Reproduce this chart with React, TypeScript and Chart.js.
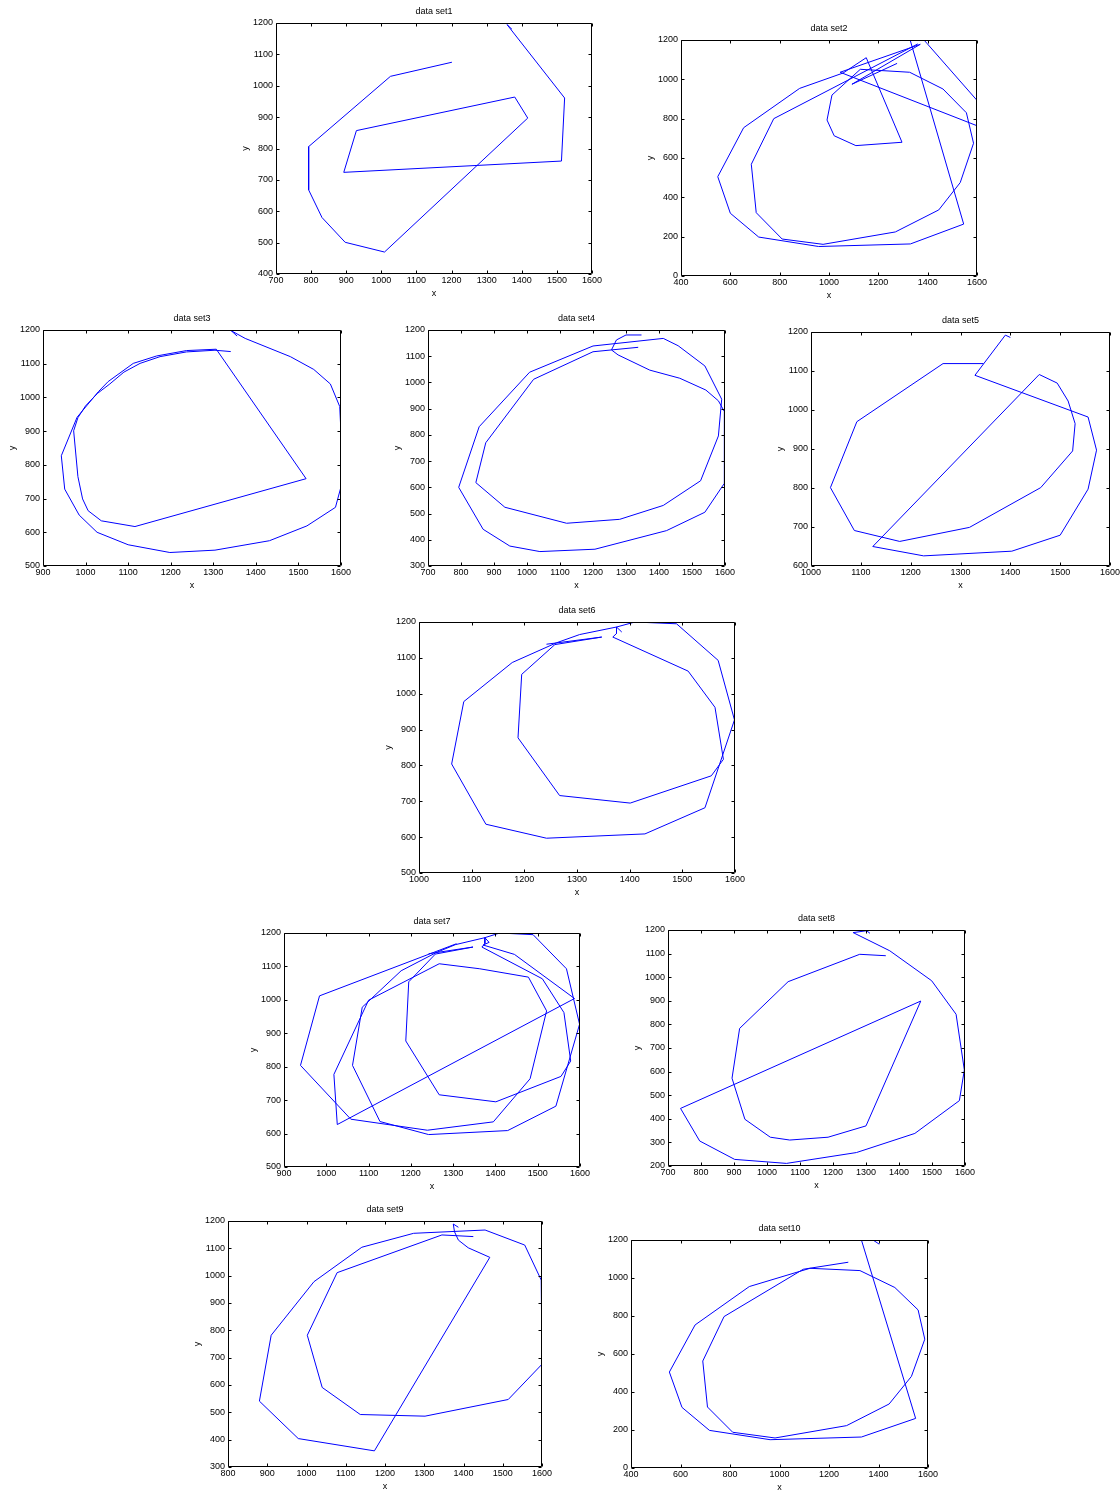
import React, { useEffect, useRef } from 'react';
import { Chart, registerables } from 'chart.js';

Chart.register(...registerables);

// ---------- data ----------
const set1X = [1201, 1026, 793, 793, 831, 897, 1009, 1417, 1380, 929, 893, 1513, 1522, 1358, 1372];
const set1Y = [1075, 1030, 806, 668, 580, 501, 470, 897, 964, 857, 724, 760, 961, 1195, 1180];

const set2X = [1276, 1093, 1370, 1045, 1600, 1600, 1397, 1385, 1329, 1546, 1330, 958, 715, 600, 549, 654, 881, 1057, 1151, 1296, 1109, 1021, 992, 1012, 1127, 1327, 1462, 1557, 1586, 1532, 1445, 1269, 976, 810, 705, 685, 776, 1360];
const set2Y = [1081, 975, 1178, 1036, 764, 893, 1183, 1200, 1200, 264, 163, 150, 198, 319, 505, 754, 954, 1032, 1110, 680, 663, 713, 793, 920, 1051, 1036, 951, 830, 675, 475, 336, 224, 161, 188, 322, 568, 800, 1180];

const set3X = [1341, 1304, 1237, 1175, 1128, 1090, 1057, 1028, 1000, 982, 972, 982, 993, 1006, 1037, 1116, 1518, 1307, 1237, 1167, 1112, 1053, 1030, 980, 943, 951, 985, 1027, 1100, 1198, 1304, 1432, 1520, 1587, 1600, 1600, 1597, 1575, 1536, 1481, 1375, 1342, 1356];
const set3Y = [1136, 1140, 1135, 1121, 1101, 1075, 1040, 1012, 975, 940, 901, 765, 699, 664, 634, 617, 759, 1143, 1139, 1123, 1101, 1047, 1017, 941, 827, 728, 651, 600, 563, 540, 547, 575, 619, 674, 735, 893, 973, 1040, 1083, 1121, 1175, 1198, 1182];

const set4X = [1337, 1256, 1200, 1020, 875, 845, 933, 1120, 1281, 1413, 1526, 1580, 1590, 1539, 1458, 1413, 1200, 1008, 855, 793, 867, 948, 1039, 1206, 1423, 1539, 1598, 1598, 1580, 1542, 1463, 1372, 1276, 1256, 1271, 1300, 1347];
const set4Y = [1134, 1124, 1117, 1012, 770, 618, 524, 463, 478, 531, 625, 796, 936, 1063, 1140, 1168, 1139, 1039, 831, 600, 440, 376, 355, 364, 435, 505, 615, 889, 930, 971, 1016, 1047, 1105, 1124, 1162, 1181, 1181];

const set5X = [1400, 1390, 1329, 1556, 1573, 1556, 1500, 1403, 1226, 1124, 1458, 1494, 1516, 1530, 1525, 1461, 1318, 1178, 1087, 1039, 1092, 1265, 1346];
const set5Y = [1186, 1192, 1089, 982, 897, 797, 679, 638, 626, 650, 1091, 1069, 1023, 965, 895, 801, 699, 663, 691, 801, 970, 1119, 1119];

const set6X = [1385, 1375, 1410, 1489, 1568, 1599, 1543, 1429, 1242, 1127, 1062, 1085, 1177, 1261, 1305, 1375, 1375, 1368, 1511, 1562, 1578, 1555, 1401, 1267, 1188, 1195, 1258, 1347, 1242];
const set6Y = [1172, 1186, 1200, 1195, 1093, 927, 682, 609, 597, 636, 804, 978, 1087, 1142, 1165, 1186, 1168, 1158, 1063, 962, 817, 771, 695, 716, 877, 1054, 1137, 1158, 1138];

const set7X = [1308, 984, 939, 1058, 1239, 1395, 1482, 1521, 1478, 1363, 1267, 1100, 1018, 1026, 1587, 1445, 1371, 1385, 1375, 1410, 1489, 1568, 1599, 1543, 1429, 1242, 1127, 1062, 1085, 1177, 1261, 1305, 1375, 1375, 1368, 1511, 1562, 1578, 1555, 1401, 1267, 1188, 1195, 1258, 1347, 1242];
const set7Y = [1168, 1012, 804, 643, 610, 635, 764, 967, 1068, 1093, 1108, 999, 777, 627, 1004, 1136, 1164, 1172, 1186, 1200, 1195, 1093, 927, 682, 609, 597, 636, 804, 978, 1087, 1142, 1165, 1186, 1168, 1158, 1063, 962, 817, 771, 695, 716, 877, 1054, 1137, 1158, 1138];

const set8X = [1360, 1281, 1064, 917, 894, 933, 1010, 1069, 1185, 1300, 1466, 738, 796, 902, 1059, 1271, 1448, 1583, 1598, 1573, 1499, 1372, 1261, 1302, 1312];
const set8Y = [1091, 1097, 981, 783, 572, 398, 322, 310, 322, 370, 899, 444, 306, 228, 211, 257, 338, 477, 607, 843, 985, 1112, 1189, 1197, 1186];

const set9X = [1425, 1345, 1078, 1002, 1040, 1137, 1302, 1514, 1600, 1598, 1556, 1455, 1273, 1141, 1019, 910, 880, 979, 1173, 1467, 1412, 1387, 1377, 1374, 1387];
const set9Y = [1143, 1149, 1011, 782, 591, 492, 486, 547, 676, 984, 1112, 1167, 1155, 1104, 978, 782, 541, 404, 359, 1067, 1102, 1130, 1161, 1189, 1177];

const set10X = [1403, 1380, 1331, 1550, 1331, 962, 717, 606, 555, 659, 878, 1123, 1325, 1466, 1560, 1587, 1533, 1443, 1271, 982, 811, 709, 690, 776, 1096, 1278];
const set10Y = [1178, 1198, 1200, 261, 163, 149, 198, 319, 505, 753, 955, 1051, 1039, 950, 832, 678, 482, 337, 223, 158, 188, 321, 563, 797, 1046, 1083];

// ---------- tick labels ----------
const xTicks700 = [700, 800, 900, 1000, 1100, 1200, 1300, 1400, 1500, 1600];
const xTicks400 = [400, 600, 800, 1000, 1200, 1400, 1600];
const xTicks900 = [900, 1000, 1100, 1200, 1300, 1400, 1500, 1600];
const xTicks1000 = [1000, 1100, 1200, 1300, 1400, 1500, 1600];
const xTicks800 = [800, 900, 1000, 1100, 1200, 1300, 1400, 1500, 1600];
const yTicks400 = [400, 500, 600, 700, 800, 900, 1000, 1100, 1200];
const yTicks0 = [0, 200, 400, 600, 800, 1000, 1200];
const yTicks500 = [500, 600, 700, 800, 900, 1000, 1100, 1200];
const yTicks300 = [300, 400, 500, 600, 700, 800, 900, 1000, 1100, 1200];
const yTicks600 = [600, 700, 800, 900, 1000, 1100, 1200];
const yTicks200 = [200, 300, 400, 500, 600, 700, 800, 900, 1000, 1100, 1200];

const titles = ['data set1', 'data set2', 'data set3', 'data set4', 'data set5', 'data set6', 'data set7', 'data set8', 'data set9', 'data set10'];

// ---------- layout (page pixel positions of each plot frame) ----------
const YW = 40; // y-axis box width
const XH = 28; // x-axis box height
const TH = 17; // title box height
const PR = 15; // right padding

const panels = [
  { title: titles[0], xs: set1X, ys: set1Y, xt: xTicks700, yt: yTicks400, left: 276, top: 23, w: 316, h: 251 },
  { title: titles[1], xs: set2X, ys: set2Y, xt: xTicks400, yt: yTicks0, left: 681, top: 40, w: 296, h: 236 },
  { title: titles[2], xs: set3X, ys: set3Y, xt: xTicks900, yt: yTicks500, left: 43, top: 330, w: 298, h: 236 },
  { title: titles[3], xs: set4X, ys: set4Y, xt: xTicks700, yt: yTicks300, left: 428, top: 330, w: 297, h: 236 },
  { title: titles[4], xs: set5X, ys: set5Y, xt: xTicks1000, yt: yTicks600, left: 811, top: 332, w: 299, h: 234 },
  { title: titles[5], xs: set6X, ys: set6Y, xt: xTicks1000, yt: yTicks500, left: 419, top: 622, w: 316, h: 251 },
  { title: titles[6], xs: set7X, ys: set7Y, xt: xTicks900, yt: yTicks500, left: 284, top: 933, w: 296, h: 234 },
  { title: titles[7], xs: set8X, ys: set8Y, xt: xTicks700, yt: yTicks200, left: 668, top: 930, w: 297, h: 236 },
  { title: titles[8], xs: set9X, ys: set9Y, xt: xTicks800, yt: yTicks300, left: 228, top: 1221, w: 314, h: 246 },
  { title: titles[9], xs: set10X, ys: set10Y, xt: xTicks400, yt: yTicks0, left: 631, top: 1240, w: 297, h: 228 },
];

const FONT = "'Liberation Sans', Arial, Helvetica, sans-serif";

const matlabBox = {
  id: 'matlabBox',
  afterDraw(chart: any) {
    const { ctx, chartArea: a } = chart;
    const sx = chart.scales.x;
    const sy = chart.scales.y;
    const L = Math.round(a.left) + 0.5;
    const R = Math.round(a.right) - 0.5;
    const T = Math.round(a.top) + 0.5;
    const B = Math.round(a.bottom) - 0.5;
    const tl = 3;
    ctx.save();
    ctx.strokeStyle = '#000';
    ctx.lineWidth = 1;
    ctx.beginPath();
    ctx.rect(L, T, R - L, B - T);
    sx.ticks.forEach((t: any) => {
      const p = Math.round(sx.getPixelForValue(t.value)) + 0.5;
      ctx.moveTo(p, B); ctx.lineTo(p, B - tl);
      ctx.moveTo(p, T); ctx.lineTo(p, T + tl);
    });
    sy.ticks.forEach((t: any) => {
      const p = Math.round(sy.getPixelForValue(t.value)) + 0.5;
      ctx.moveTo(L, p); ctx.lineTo(L + tl, p);
      ctx.moveTo(R, p); ctx.lineTo(R - tl, p);
    });
    ctx.stroke();
    ctx.restore();
  },
};

type PanelCfg = typeof panels[number];

function Panel({ cfg }: { cfg: PanelCfg }) {
  const ref = useRef<HTMLCanvasElement>(null);
  useEffect(() => {
    const tickFont = { family: FONT, size: 9 };
    const chart = new Chart(ref.current as HTMLCanvasElement, {
      type: 'scatter',
      data: {
        datasets: [
          {
            data: cfg.xs.map((x, i) => ({ x, y: cfg.ys[i] })),
            showLine: true,
            borderColor: 'rgb(0,0,255)',
            backgroundColor: 'rgb(0,0,255)',
            borderWidth: 1,
            pointRadius: 0,
            pointHoverRadius: 0,
            tension: 0,
            fill: false,
          } as any,
        ],
      },
      options: {
        responsive: false,
        animation: false,
        events: [],
        layout: { padding: { left: 0, top: 0, right: PR, bottom: 0 } },
        plugins: {
          legend: { display: false },
          tooltip: { enabled: false },
          title: {
            display: true,
            text: cfg.title,
            color: '#000',
            fullSize: false,
            font: { family: FONT, size: 9, weight: 'normal', lineHeight: '12px' } as any,
            padding: { top: 0, bottom: 5 },
          },
        },
        scales: {
          x: {
            type: 'linear',
            min: cfg.xt[0],
            max: cfg.xt[cfg.xt.length - 1],
            grid: { display: false, drawTicks: false },
            border: { display: false },
            afterBuildTicks: (s: any) => { s.ticks = cfg.xt.map((v) => ({ value: v })); },
            afterFit: (s: any) => { s.height = XH; },
            ticks: {
              font: tickFont,
              color: '#000',
              padding: 1,
              maxRotation: 0,
              autoSkip: false,
              callback: (v: any) => String(v),
            },
            title: {
              display: true,
              text: 'x',
              color: '#000',
              font: { family: FONT, size: 9, lineHeight: '12px' } as any,
              padding: { top: 0, bottom: 2 },
            },
          },
          y: {
            type: 'linear',
            min: cfg.yt[0],
            max: cfg.yt[cfg.yt.length - 1],
            grid: { display: false, drawTicks: false },
            border: { display: false },
            afterBuildTicks: (s: any) => { s.ticks = cfg.yt.map((v) => ({ value: v })); },
            afterFit: (s: any) => { s.width = YW; },
            ticks: {
              font: tickFont,
              color: '#000',
              padding: 3,
              autoSkip: false,
              callback: (v: any) => String(v),
            },
            title: {
              display: true,
              text: 'y',
              color: '#000',
              font: { family: FONT, size: 9, lineHeight: '12px' } as any,
              padding: { top: 4, bottom: 0 },
            },
          },
        },
      } as any,
      plugins: [matlabBox],
    });
    return () => chart.destroy();
  }, [cfg]);
  return (
    <canvas
      ref={ref}
      width={YW + cfg.w + PR}
      height={TH + cfg.h + XH}
      style={{ position: 'absolute', left: cfg.left - YW, top: cfg.top - TH, width: YW + cfg.w + PR, height: TH + cfg.h + XH }}
    />
  );
}

export default function App() {
  return (
    <div style={{ position: 'absolute', left: 0, top: 0, width: 1120, height: 1491, background: '#fff' }}>
      {panels.map((p) => (
        <Panel key={p.title} cfg={p} />
      ))}
    </div>
  );
}
